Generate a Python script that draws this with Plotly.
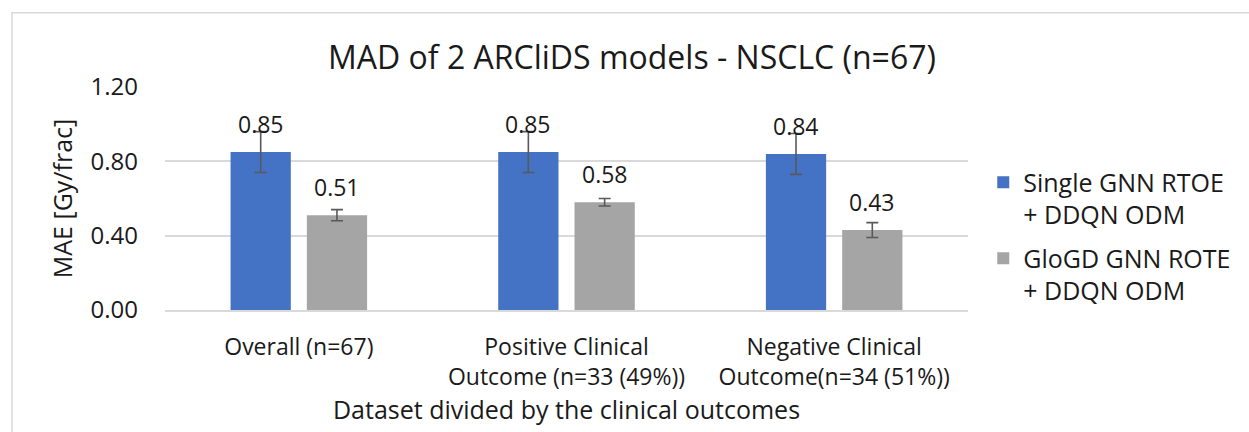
import plotly.graph_objects as go

# Data
categories = [
    "Overall (n=67)",
    "Positive Clinical<br>Outcome (n=33 (49%))",
    "Negative Clinical<br>Outcome(n=34 (51%))",
]
series_names = [
    "Single GNN RTOE<br>+ DDQN ODM",
    "GloGD GNN ROTE<br>+ DDQN ODM",
]
single_gnn_mae = [0.85, 0.85, 0.84]
single_gnn_err = [0.11, 0.11, 0.11]
glogd_gnn_mae = [0.51, 0.58, 0.43]
glogd_gnn_err = [0.03, 0.02, 0.04]
y_ticks = [0.0, 0.4, 0.8, 1.2]

FONT = "Open Sans"
TXT = "#1a1a1a"
GRID = "#d9d9d9"
ERR = "#595959"
BARGAP = 0.43

fig = go.Figure()
series = [
    (series_names[0], single_gnn_mae, single_gnn_err, "#4472C4"),
    (series_names[1], glogd_gnn_mae, glogd_gnn_err, "#A5A5A5"),
]
for k, (name, vals, errs, color) in enumerate(series):
    fig.add_trace(go.Bar(
        x=categories, y=vals, name=name, legendgroup=f"g{k}",
        marker=dict(color=color, line=dict(width=0)),
        error_y=dict(type="data", array=errs, visible=True,
                     color=ERR, thickness=1.6, width=6),
        cliponaxis=False,
    ))

# value labels above each bar, positioned at the bar's centre in the group
slot = (1 - BARGAP) / len(series)
annotations = []
for k, (name, vals, errs, color) in enumerate(series):
    offset = (k - (len(series) - 1) / 2) * slot
    for i, v in enumerate(vals):
        annotations.append(dict(
            x=i + offset, y=v, xref="x", yref="y",
            text=f"{v:.2f}", showarrow=False,
            xanchor="center", yanchor="bottom", yshift=10,
            font=dict(size=23, color=TXT, family=FONT),
        ))

fig.update_layout(
    width=1249, height=432,
    margin=dict(l=165, r=281, t=87, b=120),
    paper_bgcolor="white", plot_bgcolor="white",
    font=dict(family=FONT, color=TXT),
    barmode="group", bargap=BARGAP, bargroupgap=0.21,
    title=dict(text="MAD of 2 ARCliDS models - NSCLC (n=67)",
               x=(632 / 1249), xanchor="center", y=1 - 58 / 432, yanchor="middle",
               font=dict(size=32, color=TXT, family=FONT)),
    showlegend=True,
    legend=dict(x=1.019, y=0.33, xanchor="left", yanchor="middle",
                valign="top", traceorder="grouped",
                font=dict(size=25, color=TXT, family=FONT),
                tracegroupgap=8, itemwidth=30, bgcolor="rgba(0,0,0,0)"),
    annotations=annotations,
    shapes=[dict(type="rect", xref="paper", yref="paper",
                 x0=(12 - 165) / 803, x1=1.5, y0=-0.8, y1=(312 - 12) / 225,
                 line=dict(color=GRID, width=1.5), layer="below")],
)

fig.update_yaxes(
    range=[0, 1.2], tickvals=y_ticks, ticktext=[f"{t:.2f}" for t in y_ticks],
    showgrid=True, gridcolor=GRID, gridwidth=1.5,
    zeroline=False, showline=False, ticks="",
    ticklabelstandoff=26,
    tickfont=dict(size=24, color=TXT, family=FONT),
    title=dict(text="MAE [Gy/frac]", font=dict(size=25, color=TXT, family=FONT), standoff=10),
)
fig.update_xaxes(
    showline=True, linecolor=GRID, linewidth=1.5, ticks="",
    ticklabelstandoff=16,
    tickfont=dict(size=23, color=TXT, family=FONT),
    title=dict(text="Dataset divided by the clinical outcomes",
               font=dict(size=25, color=TXT, family=FONT), standoff=10),
)

fig.write_html("out.html")
